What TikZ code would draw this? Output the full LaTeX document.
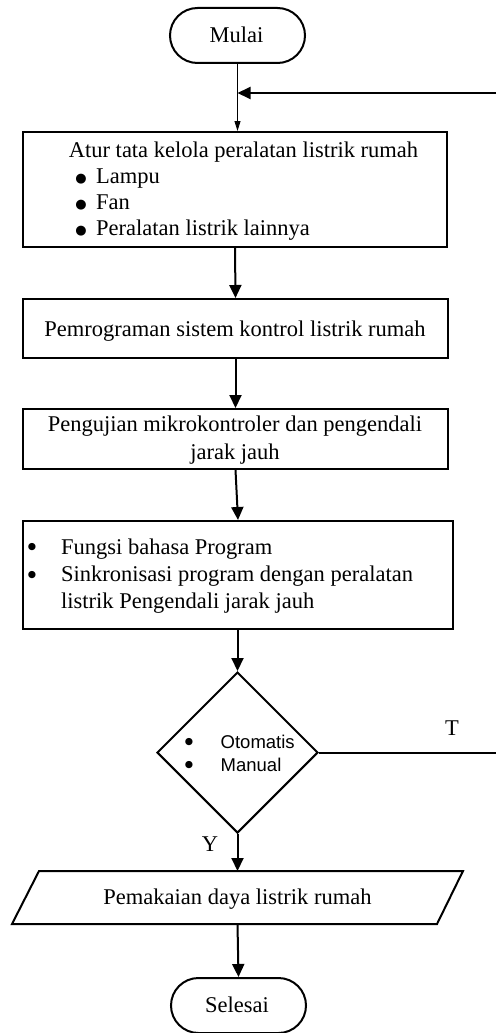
\documentclass[tikz,border=0pt]{standalone}
\usepackage{fontspec}
\setmainfont{Liberation Serif}
\newfontfamily\arialfont{Liberation Sans}
\newfontfamily\dejavufont{DejaVu Sans}
\usetikzlibrary{arrows.meta,shapes.geometric}
\tikzset{
  box/.style={draw, line width=2pt, rectangle, inner sep=0pt},
  term/.style={draw, line width=2pt, rectangle, rounded corners=27.5pt, minimum width=135pt, minimum height=55pt, inner sep=0pt},
  dec/.style={draw, line width=2pt, diamond, minimum width=161pt, minimum height=161pt, inner sep=0pt},
  txt/.style={inner sep=0pt, anchor=base, font=\fontsize{22.5}{26}\selectfont},
  txtw/.style={inner sep=0pt, anchor=base west, font=\fontsize{22.5}{26}\selectfont},
  bigdot/.style={inner sep=0pt, anchor=center, font=\dejavufont\fontsize{13}{13}\selectfont},
  smalldot/.style={inner sep=0pt, anchor=center, font=\dejavufont\fontsize{9.5}{10}\selectfont},
  stxt/.style={inner sep=0pt, anchor=base west, font=\arialfont\fontsize{18.5}{22}\selectfont},
  arr/.style={line width=2pt, -{Triangle[length=13pt,width=12pt]}},
  thinarr/.style={line width=0.9pt, -{Triangle[length=10pt,width=6pt]}},
  ln/.style={line width=2pt},
}
\begin{document}
\begin{tikzpicture}[x=1pt,y=-1pt]
\useasboundingbox (0,0) rectangle (496,1033);
% terminals
\node[term] (mulai) at (237.5,35.5) {};
\node[txt] (mulait) at (236.5,43) {Mulai};
\node[term] (selesai) at (238.5,1005.5) {};
\node[txt] (selesait) at (237,1012.5) {Selesai};
% box 1
\node[box, minimum width=424pt, minimum height=115pt] (b1) at (235,189.5) {};
\node[txt] (b1t) at (243.5,157) {Atur tata kelola peralatan listrik rumah};
\node[bigdot] (b1ba) at (81,179) {●};
\node[txtw] (b1a) at (96,183) {Lampu};
\node[bigdot] (b1bb) at (81,205) {●};
\node[txtw] (b1b) at (96,209) {Fan};
\node[bigdot] (b1bc) at (81,231) {●};
\node[txtw] (b1c) at (96,235) {Peralatan listrik lainnya};
% box 2
\node[box, minimum width=425pt, minimum height=59pt] (b2) at (235.5,328.5) {};
\node[txt] (b2t) at (235,336) {Pemrograman sistem kontrol listrik rumah};
% box 3
\node[box, minimum width=425pt, minimum height=60pt] (b3) at (235.5,439) {};
\node[txt] (b3a) at (235,431.5) {Pengujian mikrokontroler dan pengendali};
\node[txt] (b3b) at (235,459) {jarak jauh};
% box 4
\node[box, minimum width=430pt, minimum height=108pt] (b4) at (238,575) {};
\node[smalldot] (b4ba) at (32,547.5) {●};
\node[txtw] (b4a) at (61,554) {Fungsi bahasa Program};
\node[smalldot] (b4bb) at (32,575) {●};
\node[txtw] (b4b) at (61,581.5) {Sinkronisasi program dengan peralatan};
\node[txtw] (b4c) at (61,608.5) {listrik Pengendali jarak jauh};
% decision
\node[dec] (dec) at (237.5,752.5) {};
\node[smalldot] (decba) at (189,742) {●};
\node[stxt] (deca) at (220.5,748) {Otomatis};
\node[smalldot] (decbb) at (189,765.5) {●};
\node[stxt] (decb) at (220.5,771) {Manual};
\node[txt] (tlab) at (452,735) {T};
\node[txt] (ylab) at (210,851.5) {Y};
% parallelogram
\coordinate (ptl) at (39,871);
\coordinate (ptr) at (463,871);
\coordinate (pbr) at (437,924);
\coordinate (pbl) at (12,924);
\draw[ln] (ptl) -- (ptr) -- (pbr) -- (pbl) -- cycle;
\node[txt] (para) at (237.5,904) {Pemakaian daya listrik rumah};
\coordinate (ptop) at (237.5,871);
\coordinate (pbot) at (237.5,924);
% connectors
\coordinate (fb) at (496,93);
\coordinate (tend) at (496,752.5);
\draw[thinarr] (mulai.south) -- (mulai.south |- b1.north);
\draw[arr] (fb) -- (fb -| mulai.south);
\draw[arr] (b1.south) -- (b2.north);
\draw[arr] (b2.south) -- (b3.north);
\draw[arr] (b3.south) -- (b4.north);
\draw[arr] (b4.south -| dec.north) -- (dec.north);
\draw[ln] (dec.east) -- (tend);
\draw[arr] (dec.south) -- (ptop);
\draw[arr] (pbot) -- (selesai.north);
\end{tikzpicture}
\end{document}
